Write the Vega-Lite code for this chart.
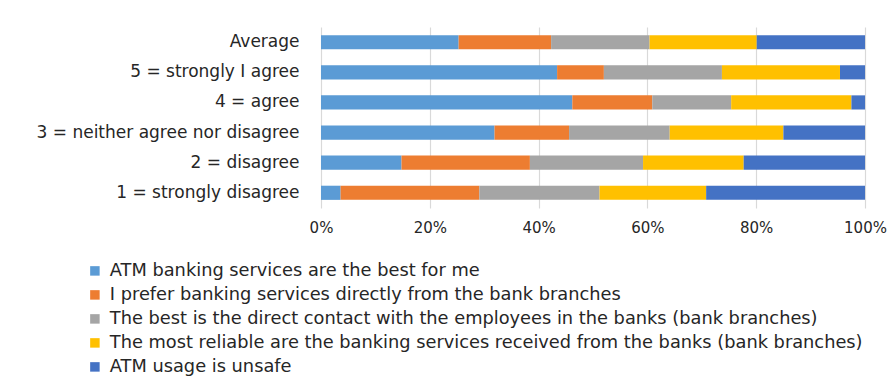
{
  "$schema": "https://vega.github.io/schema/vega-lite/v6.json",
  "width": 544,
  "height": 181,
  "autosize": {"type": "none"},
  "padding": {"left": 321, "top": 27, "right": 31, "bottom": 182},
  "background": "white",
  "config": {
    "font": "DejaVu Sans",
    "view": {"stroke": null}
  },
  "data": {
    "values": [
      {"row": "Average", "s": "ATM banking services are the best for me", "o": 1, "v": 25.3},
      {"row": "Average", "s": "I prefer banking services directly from the bank branches", "o": 2, "v": 17.0},
      {"row": "Average", "s": "The best is the direct contact with the employees in the banks (bank branches)", "o": 3, "v": 18.1},
      {"row": "Average", "s": "The most reliable are the banking services received from the banks (bank branches)", "o": 4, "v": 19.7},
      {"row": "Average", "s": "ATM usage is unsafe", "o": 5, "v": 19.9},
      {"row": "5 = strongly I agree", "s": "ATM banking services are the best for me", "o": 1, "v": 43.4},
      {"row": "5 = strongly I agree", "s": "I prefer banking services directly from the bank branches", "o": 2, "v": 8.6},
      {"row": "5 = strongly I agree", "s": "The best is the direct contact with the employees in the banks (bank branches)", "o": 3, "v": 21.7},
      {"row": "5 = strongly I agree", "s": "The most reliable are the banking services received from the banks (bank branches)", "o": 4, "v": 21.7},
      {"row": "5 = strongly I agree", "s": "ATM usage is unsafe", "o": 5, "v": 4.6},
      {"row": "4 = agree", "s": "ATM banking services are the best for me", "o": 1, "v": 46.2},
      {"row": "4 = agree", "s": "I prefer banking services directly from the bank branches", "o": 2, "v": 14.7},
      {"row": "4 = agree", "s": "The best is the direct contact with the employees in the banks (bank branches)", "o": 3, "v": 14.5},
      {"row": "4 = agree", "s": "The most reliable are the banking services received from the banks (bank branches)", "o": 4, "v": 22.1},
      {"row": "4 = agree", "s": "ATM usage is unsafe", "o": 5, "v": 2.5},
      {"row": "3 = neither agree nor disagree", "s": "ATM banking services are the best for me", "o": 1, "v": 31.9},
      {"row": "3 = neither agree nor disagree", "s": "I prefer banking services directly from the bank branches", "o": 2, "v": 13.7},
      {"row": "3 = neither agree nor disagree", "s": "The best is the direct contact with the employees in the banks (bank branches)", "o": 3, "v": 18.5},
      {"row": "3 = neither agree nor disagree", "s": "The most reliable are the banking services received from the banks (bank branches)", "o": 4, "v": 20.9},
      {"row": "3 = neither agree nor disagree", "s": "ATM usage is unsafe", "o": 5, "v": 15.0},
      {"row": "2 = disagree", "s": "ATM banking services are the best for me", "o": 1, "v": 14.8},
      {"row": "2 = disagree", "s": "I prefer banking services directly from the bank branches", "o": 2, "v": 23.6},
      {"row": "2 = disagree", "s": "The best is the direct contact with the employees in the banks (bank branches)", "o": 3, "v": 20.8},
      {"row": "2 = disagree", "s": "The most reliable are the banking services received from the banks (bank branches)", "o": 4, "v": 18.5},
      {"row": "2 = disagree", "s": "ATM usage is unsafe", "o": 5, "v": 22.3},
      {"row": "1 = strongly disagree", "s": "ATM banking services are the best for me", "o": 1, "v": 3.6},
      {"row": "1 = strongly disagree", "s": "I prefer banking services directly from the bank branches", "o": 2, "v": 25.5},
      {"row": "1 = strongly disagree", "s": "The best is the direct contact with the employees in the banks (bank branches)", "o": 3, "v": 22.1},
      {"row": "1 = strongly disagree", "s": "The most reliable are the banking services received from the banks (bank branches)", "o": 4, "v": 19.6},
      {"row": "1 = strongly disagree", "s": "ATM usage is unsafe", "o": 5, "v": 29.2}
    ]
  },
  "mark": {"type": "bar"},
  "encoding": {
    "y": {
      "field": "row",
      "type": "nominal",
      "sort": null,
      "scale": {"paddingInner": 0.53, "paddingOuter": 0.27},
      "axis": {
        "title": null,
        "domain": false,
        "ticks": false,
        "labelFontSize": 17,
        "labelColor": "#262626",
        "labelPadding": 22,
        "labelLimit": 400
      }
    },
    "x": {
      "field": "v",
      "type": "quantitative",
      "stack": "normalize",
      "scale": {"domain": [0, 1]},
      "axis": {
        "title": null,
        "format": ".0%",
        "values": [0, 0.2, 0.4, 0.6, 0.8, 1],
        "domain": false,
        "ticks": false,
        "grid": true,
        "gridColor": "#D9D9D9",
        "gridWidth": 1.2,
        "labelFontSize": 15,
        "labelColor": "#262626",
        "labelPadding": 12,
        "labelFlush": false
      }
    },
    "color": {
      "field": "s",
      "type": "nominal",
      "sort": {"field": "o"},
      "scale": {
        "domain": [
          "ATM banking services are the best for me",
          "I prefer banking services directly from the bank branches",
          "The best is the direct contact with the employees in the banks (bank branches)",
          "The most reliable are the banking services received from the banks (bank branches)",
          "ATM usage is unsafe"
        ],
        "range": ["#5B9BD5", "#ED7D31", "#A5A5A5", "#FFC000", "#4472C4"]
      },
      "legend": {
        "title": null,
        "orient": "none",
        "legendX": -235,
        "legendY": 235,
        "symbolType": "square",
        "symbolSize": 90,
        "symbolStrokeWidth": 0,
        "labelFontSize": 17.8,
        "labelColor": "#262626",
        "labelLimit": 900,
        "rowPadding": 5,
        "symbolOffset": 0,
        "labelOffset": 6
      }
    },
    "order": {"field": "o", "type": "quantitative"}
  }
}
